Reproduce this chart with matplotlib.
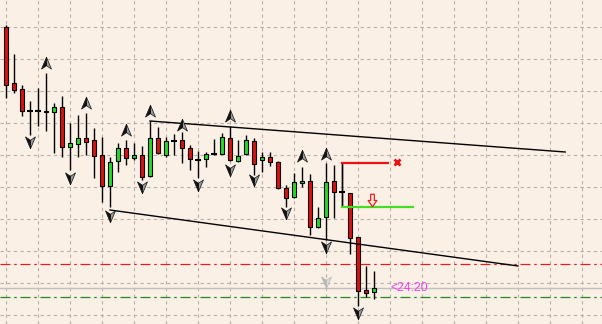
import numpy as np
import matplotlib
matplotlib.use("Agg")
import matplotlib.pyplot as plt
from matplotlib.path import Path

# OHLC, price in chart points
opens  = [297, 241, 235, 213, 213, 212, 212, 217, 177, 180, 186, 184, 169, 138, 163, 176,
          166, 169, 148, 186, 169, 183, 184, 176, 164, 165, 170, 170, 186, 163, 170, 183,
          164, 167, 162, 136, 127, 141, 143, 97, 107, 143, 132, 131, 87, 34, 32]
highs  = [299, 270, 239, 223, 236, 251, 221, 228, 201, 209, 211, 196, 187, 167, 181, 184,
          181, 178, 203, 197, 187, 190, 192, 179, 173, 172, 185, 191, 198, 184, 189, 186,
          172, 172, 163, 139, 151, 157, 150, 117, 161, 159, 160, 131, 87, 58, 53]
lows   = [226, 231, 208, 189, 198, 193, 171, 167, 154, 167, 169, 146, 122, 117, 152, 159,
          164, 144, 147, 170, 167, 169, 161, 154, 146, 157, 169, 170, 163, 162, 169, 149,
          152, 158, 135, 117, 126, 137, 89, 96, 84, 106, 117, 70, 18, 27, 25]
closes = [239, 234, 213, 213, 213, 213, 217, 177, 181, 186, 182, 168, 138, 162, 176, 166,
          169, 147, 186, 171, 183, 183, 176, 165, 164, 170, 170, 187, 164, 168, 184, 160,
          167, 162, 136, 126, 142, 143, 97, 106, 142, 132, 132, 86, 33, 31, 36]

# fractals
up_idx = [5, 10, 15, 18, 22, 28, 37, 40]
up_val = [261, 221, 194, 213, 199, 208, 168, 170]
dn_idx = [3, 8, 13, 17, 24, 28, 31, 35, 40, 44]
dn_val = [182, 146, 108, 137, 139, 154, 144, 111, 77, 11]
pale_idx = [40]
pale_val = [42]

# trend lines (bar index, price)
upper_line = ([18, 69.9], [203, 172])
lower_line = ([13, 64], [114, 58])

# levels
red_level = 60
green_level = 27
bid = 36
sl_price = 161
tp_price = 117
obj_start = 42
timer_text = "<24:20"

bg = "#faf0e6"
fig = plt.figure(figsize=(6.02, 3.24), dpi=100, facecolor=bg)
ax = fig.add_axes([0, 0, 1, 1], facecolor=bg)
ax.set_xlim(-0.75, 74.5)
ax.set_ylim(0, 324)

# grid
ax.set_xticks(np.arange(0, 75, 4))
ax.set_yticks(np.arange(9, 324, 32))
ax.grid(True, color="#b8b0a8", linestyle=(0, (3, 3)), linewidth=0.8)
ax.tick_params(length=0, labelbottom=False, labelleft=False)
for s in ax.spines.values():
    s.set_visible(False)
ax.set_axisbelow(True)

# level lines
ax.axhline(bid, color="#c0c0c0", linewidth=1, zorder=1)
ax.axhline(red_level, color="#e02020", linewidth=0.9, linestyle=(0, (8, 3, 2, 3)), zorder=1)
ax.axhline(green_level, color="#208a20", linewidth=0.9, linestyle=(0, (8, 3, 2, 3)), zorder=1)

# candles
x = np.arange(len(opens))
o = np.array(opens); c = np.array(closes)
ax.vlines(x, lows, highs, color="black", linewidth=1, zorder=2)
colors = ["#22dd22" if cc > oo else "#dd1010" for oo, cc in zip(o, c)]
body = np.abs(c - o)
mask = body > 0
ax.bar(x[mask], body[mask], bottom=np.minimum(o, c)[mask], width=0.55,
       color=np.array(colors)[mask], edgecolor="black", linewidth=0.8, zorder=3)
ax.hlines(o[~mask], x[~mask] - 0.33, x[~mask] + 0.33, color="black", linewidth=1.5, zorder=3)

# trend lines
ax.plot(*upper_line, color="black", linewidth=1, zorder=4)
ax.plot(*lower_line, color="black", linewidth=1, zorder=4)

# order-like objects
ax.plot([obj_start, 47.75], [sl_price, sl_price], color="#ee1111", linewidth=1.6, zorder=4)
ax.plot([48.9], [sl_price + 1], marker="x", color="#ee1111", markersize=4.5, mew=2, zorder=4)
ax.plot([obj_start, 50.9], [tp_price, tp_price], color="#44dd22", linewidth=1.6, zorder=4)
ax.vlines(obj_start, tp_price, sl_price, color="black", linewidth=1, zorder=2)
arrow_down = Path([(-0.3, 1), (0.3, 1), (0.3, 0), (0.7, 0), (0, -1), (-0.7, 0), (-0.3, 0), (-0.3, 1)])
ax.plot([45.75], [tp_price + 7], marker=arrow_down, markersize=9, mfc="#ffe8d8",
        mec="#ee2222", mew=0.9, linestyle="none", zorder=5)

# fractal arrow markers (two-tone)
up_left = Path([(0, 1), (0, -0.35), (-0.8, -0.9), (0, 1)])
up_right = Path([(0, 1), (0.8, -0.9), (0, -0.35), (0, 1)])
dn_left = Path([(0, -1), (-0.8, 0.9), (0, 0.35), (0, -1)])
dn_right = Path([(0, -1), (0, 0.35), (0.8, 0.9), (0, -1)])


def fractals(xs, ys, left, right, dark, light):
    ax.plot(xs, ys, marker=right, markersize=9, color=light, mec=dark, mew=0.5,
            linestyle="none", zorder=6)
    ax.plot(xs, ys, marker=left, markersize=9, color=dark, mec=dark, mew=0.5,
            linestyle="none", zorder=6)


fractals(up_idx, up_val, up_left, up_right, "#111111", "#9a9a9a")
fractals(dn_idx, dn_val, dn_left, dn_right, "#111111", "#9a9a9a")
fractals(pale_idx, pale_val, dn_left, dn_right, "#b8b8b8", "#dcdcdc")

ax.text(48.0, bid, timer_text, color="#f040f0", fontsize=8.7,
        family=["Liberation Sans", "DejaVu Sans"], ha="left", va="center", zorder=6)

fig.savefig("out.png", dpi=100, facecolor=bg)
